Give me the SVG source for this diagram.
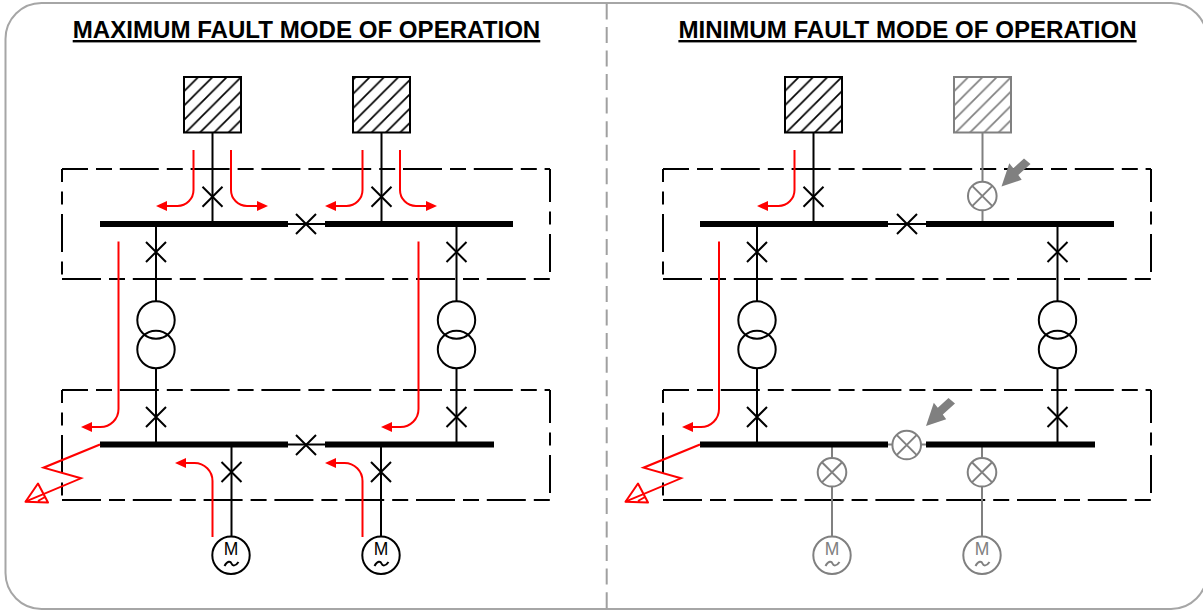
<svg xmlns="http://www.w3.org/2000/svg" width="1203" height="610" viewBox="0 0 1203 610">
<style>
.l{fill:none;stroke:#000;stroke-width:2}
.g{fill:none;stroke:#808080;stroke-width:2}
.bus{fill:none;stroke:#000;stroke-width:6}
.dh{fill:none;stroke:#000;stroke-width:2;stroke-dasharray:39 8 16 7.800}
.dv{fill:none;stroke:#000;stroke-width:2;stroke-dasharray:38 9.500 13 9.500}
.r{fill:none;stroke:#f00;stroke-width:2}
.ra{fill:#f00;stroke:none}
.ga{fill:#808080;stroke:none}
.t{font-family:"Liberation Sans",Arial,sans-serif;font-weight:700;font-size:24.100px;text-decoration:underline;text-anchor:middle;fill:#000}
.m{font-family:"Liberation Sans",Arial,sans-serif;font-size:17.500px;text-anchor:middle}
.w{fill:#fff}
</style>
<defs>
<pattern id="hb" patternUnits="userSpaceOnUse" width="14.300" height="14.300" patternTransform="translate(184 77)"><rect width="14.300" height="14.300" fill="#fff"/><path d="M-2 16.300L16.300 -2M-2 2L2 -2M12.300 16.300L16.300 12.300" stroke="#000" stroke-width="1.700" fill="none"/></pattern>
<pattern id="hg" patternUnits="userSpaceOnUse" width="14.300" height="14.300" patternTransform="translate(954 77)"><rect width="14.300" height="14.300" fill="#fff"/><path d="M-2 16.300L16.300 -2M-2 2L2 -2M12.300 16.300L16.300 12.300" stroke="#808080" stroke-width="1.700" fill="none"/></pattern>
<g id="cb"><path d="M-10 -10L10 10M-10 10L10 -10" fill="none" stroke="#000" stroke-width="2"/></g>
<g id="open"><circle r="14.300" fill="#fff" stroke="#808080" stroke-width="2"/><path d="M-10.100 -10.100L10.100 10.100M-10.100 10.100L10.100 -10.100" fill="none" stroke="#808080" stroke-width="2"/></g>
<g id="tx"><circle cy="-15" r="18.700" fill="none" stroke="#000" stroke-width="2"/><circle cy="14.500" r="18.700" fill="none" stroke="#000" stroke-width="2"/></g>
<g id="zone">
<path class="dh" stroke-dashoffset="13" d="M62 0H550"/>
<path class="dh" d="M62 110H550"/>
<path class="dv" stroke-dashoffset="25" d="M62 0V110"/>
<path class="dv" stroke-dashoffset="5" d="M550 0V104"/>
</g>
<g id="fault"><path class="r" d="M100 444.500L43.500 467.700L81 478.300L25.500 501.700"/><path class="r" stroke-linejoin="round" d="M25.500 501.700L38 483.500L48 502.500ZM38 501L45 497"/></g>
<path id="ga" d="M0 0L7.800 -23.300L11.800 -18.200L22.500 -28L29 -22.500L16.800 -11.500L20.200 -6.700Z"/>
<path id="al" d="M0 0L11 -5L11 5Z"/>
<path id="ar" d="M0 0L-11 -5L-11 5Z"/>
</defs>

<rect id="frame" x="5.500" y="3" width="1201.500" height="606" rx="36" fill="#fff" stroke="#a6a6a6" stroke-width="2"/>
<path id="divider" d="M606.700 3.400V610" fill="none" stroke="#a0a0a0" stroke-width="2" stroke-dasharray="16 7.550"/>

<text id="title-left" class="t" x="306.500" y="38">MAXIMUM FAULT MODE OF OPERATION</text>
<text id="title-right" class="t" x="907.500" y="38">MINIMUM FAULT MODE OF OPERATION</text>

<g id="zones">
<use href="#zone" x="0" y="169"/>
<use href="#zone" x="0" y="390"/>
<use href="#zone" x="601" y="169"/>
<use href="#zone" x="601" y="390"/>
</g>

<g id="connectors">
<path class="l" d="M212.500 132V224M381.500 132V224M156 224V301M156 368V444M456.500 224V301M456.500 368V444M231.500 444V536M381 444V536M288 224H325M288 444.500H325"/>
<path class="l" d="M813.500 132V224M757 224V301M757 368V444M1057.500 224V301M1057.500 368V444M888 224H926"/>
<path class="g" d="M982.500 132V224M832 444V536M982 444V536M888 444.500H926"/>
</g>

<g id="buses">
<path class="bus" d="M100 224H288M325 224H513M100 444.500H288M325 444.500H494"/>
<path class="bus" d="M700 224H888M926 224H1114M700 444.500H888M926 444.500H1095"/>
</g>

<g id="source-1"><rect x="184" y="77" width="57" height="55.500" fill="url(#hb)" stroke="#000" stroke-width="2"/></g>
<g id="source-2"><rect x="353" y="77" width="57" height="55.500" fill="url(#hb)" stroke="#000" stroke-width="2"/></g>
<g id="source-3"><rect x="785" y="77" width="57" height="55.500" fill="url(#hb)" stroke="#000" stroke-width="2"/></g>
<g id="source-4"><rect x="954" y="77" width="57" height="55.500" fill="url(#hg)" stroke="#808080" stroke-width="2"/></g>

<g id="breakers">
<use href="#cb" x="212.500" y="196.700"/><use href="#cb" x="381.500" y="196.700"/><use href="#cb" x="306" y="224"/>
<use href="#cb" x="156" y="252"/><use href="#cb" x="456.500" y="252"/>
<use href="#cb" x="156" y="417"/><use href="#cb" x="456.500" y="417"/>
<use href="#cb" x="306" y="445"/><use href="#cb" x="231.500" y="472"/><use href="#cb" x="381" y="472"/>
<use href="#cb" x="813.500" y="196.700"/><use href="#cb" x="907" y="224"/>
<use href="#cb" x="757" y="252"/><use href="#cb" x="1057.500" y="252"/>
<use href="#cb" x="757" y="417"/><use href="#cb" x="1057.500" y="417"/>
</g>

<g id="open-breakers">
<use href="#open" x="982.300" y="196"/><use href="#open" x="906.700" y="445"/><use href="#open" x="832" y="472.300"/><use href="#open" x="982" y="472.300"/>
</g>

<g id="transformers">
<use href="#tx" x="156" y="335"/><use href="#tx" x="456.500" y="335"/><use href="#tx" x="757" y="335"/><use href="#tx" x="1057.500" y="335"/>
</g>

<g id="motor-1"><circle cx="231" cy="555.300" r="18.700" class="w" stroke="#000" stroke-width="2"/><text class="m" x="231" y="555">M</text><path class="l" d="M224.500 566c3 -5.500 6 -5 7 -2.500s4 3 7 -1.500"/></g>
<g id="motor-2"><circle cx="381" cy="555.300" r="18.700" class="w" stroke="#000" stroke-width="2"/><text class="m" x="381" y="555">M</text><path class="l" d="M374.500 566c3 -5.500 6 -5 7 -2.500s4 3 7 -1.500"/></g>
<g id="motor-3"><circle cx="832" cy="555.300" r="18.700" class="w" stroke="#808080" stroke-width="2"/><text class="m" x="832" y="555" fill="#808080">M</text><path class="g" d="M825.500 566c3 -5.500 6 -5 7 -2.500s4 3 7 -1.500"/></g>
<g id="motor-4"><circle cx="982" cy="555.300" r="18.700" class="w" stroke="#808080" stroke-width="2"/><text class="m" x="982" y="555" fill="#808080">M</text><path class="g" d="M975.500 566c3 -5.500 6 -5 7 -2.500s4 3 7 -1.500"/></g>

<g id="fault-currents">
<path class="r" d="M193.500 150V190A16 16 0 0 1 177.500 206H165"/><use href="#al" class="ra" x="156" y="206"/>
<path class="r" d="M231 150V190A16 16 0 0 0 247 206H259"/><use href="#ar" class="ra" x="268" y="206"/>
<path class="r" d="M362.500 150V190A16 16 0 0 1 346.500 206H334"/><use href="#al" class="ra" x="325" y="206"/>
<path class="r" d="M400 150V190A16 16 0 0 0 416 206H428"/><use href="#ar" class="ra" x="437" y="206"/>
<path class="r" d="M118.500 241.500V409A18 18 0 0 1 100.500 427H90"/><use href="#al" class="ra" x="81" y="427"/>
<path class="r" d="M418.500 241.500V409A18 18 0 0 1 400.500 427H390"/><use href="#al" class="ra" x="381" y="427"/>
<path class="r" d="M212.500 537V481A18 18 0 0 0 194.500 463H184"/><use href="#al" class="ra" x="175" y="463"/>
<path class="r" d="M362.500 537V481A18 18 0 0 0 344.500 463H334"/><use href="#al" class="ra" x="325" y="463"/>
<path class="r" d="M794.500 150V190A16 16 0 0 1 778.500 206H766"/><use href="#al" class="ra" x="757" y="206"/>
<path class="r" d="M719 241.500V409A18 18 0 0 1 701 427H691"/><use href="#al" class="ra" x="682" y="427"/>
<use href="#fault"/><use href="#fault" x="600"/>
</g>

<g id="indicators">
<use href="#ga" class="ga" x="1001.500" y="186.500"/>
<use href="#ga" class="ga" x="926" y="426"/>
</g>
</svg>
